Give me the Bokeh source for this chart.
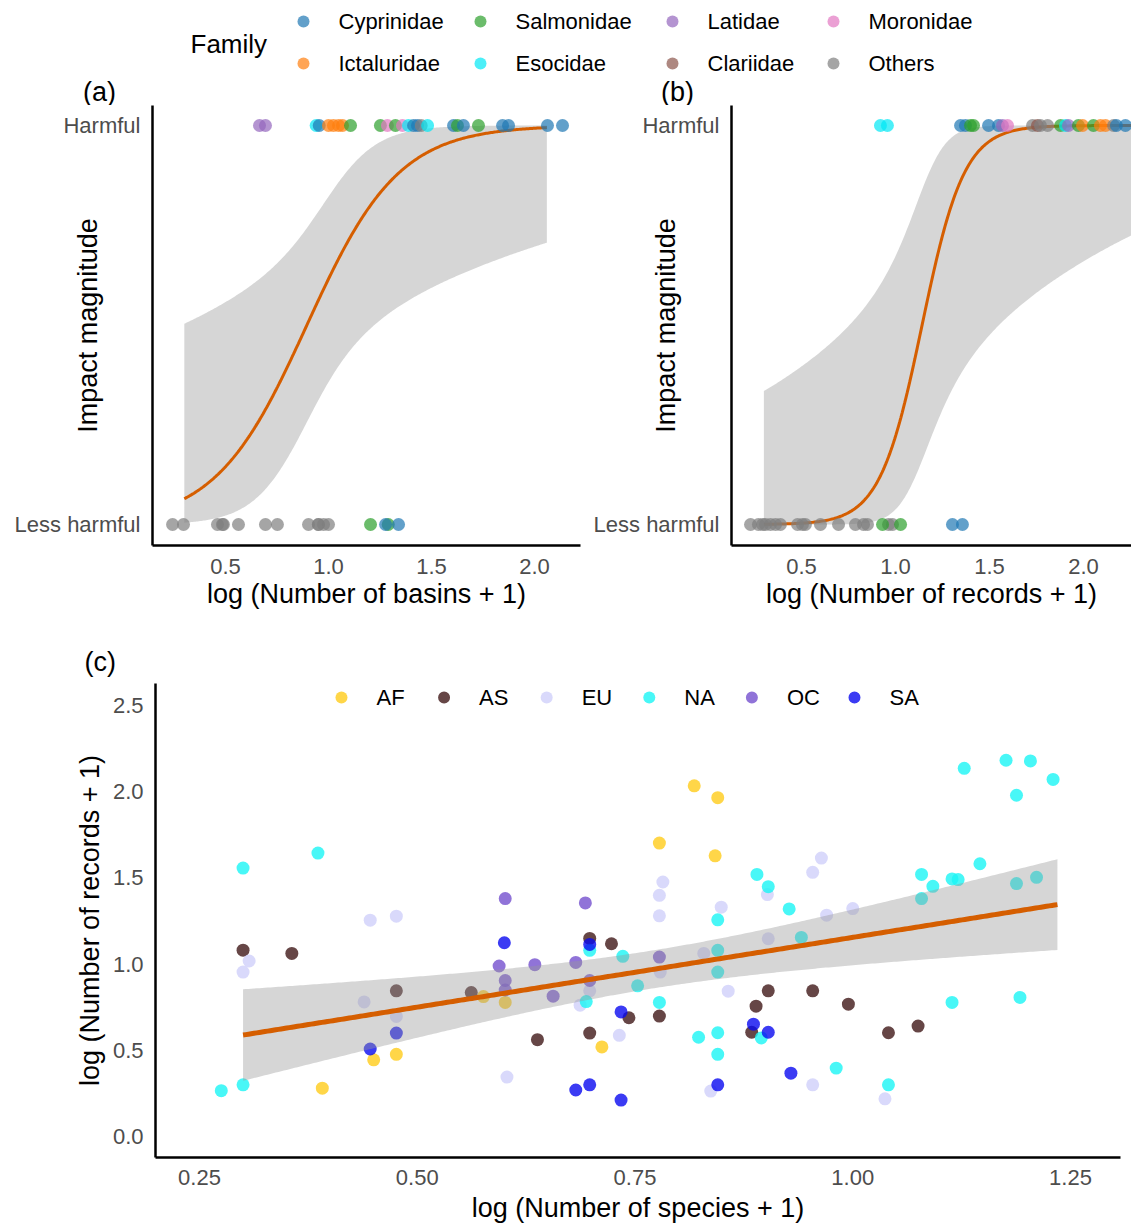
import numpy as np
from bokeh.plotting import figure
from bokeh.models import ColumnDataSource, Range1d, FixedTicker, PrintfTickFormatter
from bokeh.layouts import column, row
from bokeh.transform import factor_cmap
from bokeh.core.properties import value
from bokeh.embed import file_html
from bokeh.resources import INLINE

FONT = "Liberation Sans"

# ---------------- data ----------------
families = ["Cyprinidae", "Ictaluridae", "Salmonidae", "Esocidae",
            "Latidae", "Clariidae", "Moronidae", "Others"]
family_colors = ["#1F77B4", "#FF7F0E", "#2CA02C", "#00E8F5",
                 "#9467BD", "#8C564B", "#E377C2", "#7F7F7F"]
impact_labels = {0: "Less harmful", 1: "Harmful"}

# panel (a): log(number of basins + 1)
a_harm_x = [0.665, 0.694, 0.940, 0.955, 1.000, 1.024, 1.049, 1.068, 1.107, 1.252,
            1.286, 1.325, 1.359, 1.388, 1.413, 1.432, 1.450, 1.481, 1.607, 1.626,
            1.655, 1.728, 1.845, 1.874, 2.063, 2.136]
a_harm_fam = ["Latidae", "Latidae", "Esocidae", "Cyprinidae", "Ictaluridae", "Ictaluridae",
              "Ictaluridae", "Ictaluridae", "Salmonidae", "Salmonidae", "Moronidae",
              "Salmonidae", "Moronidae", "Esocidae", "Cyprinidae", "Cyprinidae", "Others",
              "Esocidae", "Cyprinidae", "Salmonidae", "Cyprinidae", "Salmonidae",
              "Cyprinidae", "Cyprinidae", "Cyprinidae", "Cyprinidae"]
a_less_x = [0.243, 0.296, 0.461, 0.485, 0.490, 0.563, 0.694, 0.752, 0.903, 0.951,
            0.951, 0.976, 1.000, 1.204, 1.290, 1.277, 1.340]
a_less_fam = ["Others"] * 13 + ["Salmonidae", "Salmonidae", "Cyprinidae", "Cyprinidae"]
a_coef = [-4.02, 4.49]
a_vcov = [[3.688, -3.584], [-3.584, 3.772]]
a_fit_range = [0.30, 2.06]

# panel (b): log(number of records + 1)
b_harm_x = [0.920, 0.957, 1.346, 1.372, 1.399, 1.415, 1.495, 1.548, 1.569, 1.596,
            1.729, 1.755, 1.771, 1.809, 1.878, 1.904, 1.920, 1.973, 1.995, 2.053,
            2.090, 2.117, 2.160, 2.175, 2.223]
b_harm_fam = ["Esocidae", "Esocidae", "Cyprinidae", "Cyprinidae", "Salmonidae", "Salmonidae",
              "Cyprinidae", "Cyprinidae", "Latidae", "Moronidae", "Others", "Clariidae",
              "Others", "Others", "Salmonidae", "Esocidae", "Latidae", "Salmonidae",
              "Ictaluridae", "Salmonidae", "Ictaluridae", "Ictaluridae", "Others",
              "Cyprinidae", "Cyprinidae"]
b_less_x = [0.229, 0.271, 0.293, 0.309, 0.335, 0.362, 0.388, 0.479, 0.505, 0.521,
            0.601, 0.697, 0.787, 0.830, 0.851, 0.963, 0.984, 0.931, 1.027, 1.303, 1.356]
b_less_fam = ["Others"] * 17 + ["Salmonidae", "Salmonidae", "Cyprinidae", "Cyprinidae"]
b_coef = [-10.16, 8.9]
b_vcov = [[21.6, -18.35], [-18.35, 16.12]]
b_fit_range = [0.30, 2.30]

# panel (c): log(number of species + 1) vs log(number of records + 1)
regions = ["AF", "AS", "EU", "NA", "OC", "SA"]
region_colors = ["#FFCC1A", "#401818", "#D0D0FA", "#1AF5F5", "#7450CE", "#0A0AF0"]
af_x = [0.818, 0.845, 0.778, 0.842, 0.576, 0.601, 0.450, 0.476, 0.712, 0.391]
af_y = [2.034, 1.965, 1.702, 1.628, 0.812, 0.778, 0.445, 0.477, 0.520, 0.281]
as_x = [0.300, 0.356, 0.698, 0.723, 0.476, 0.562, 0.743, 0.638, 0.698, 0.778, 0.903,
        0.889, 0.954, 0.995, 0.884, 1.041, 1.075]
as_y = [1.081, 1.062, 1.149, 1.118, 0.845, 0.835, 0.689, 0.562, 0.600, 0.699, 0.845,
        0.756, 0.845, 0.768, 0.605, 0.602, 0.641]
eu_x = [0.446, 0.476, 0.307, 0.300, 0.439, 0.698, 0.687, 0.476, 0.732, 0.603, 0.782,
        0.778, 0.778, 0.849, 0.902, 0.954, 0.964, 0.970, 1.000, 0.903, 0.779, 0.829,
        0.857, 0.954, 1.037, 0.837]
eu_y = [1.255, 1.278, 1.018, 0.954, 0.781, 0.845, 0.762, 0.697, 0.587, 0.345, 1.476,
        1.399, 1.280, 1.330, 1.403, 1.532, 1.615, 1.284, 1.322, 1.147, 0.954, 1.062,
        0.843, 0.300, 0.219, 0.264]
na_x = [0.300, 0.386, 0.698, 0.736, 0.694, 0.753, 0.275, 0.300, 0.845, 0.890, 0.903,
        0.927, 0.941, 0.845, 0.845, 0.778, 0.895, 0.823, 0.845, 0.845, 0.981, 1.041,
        1.128, 1.176, 1.204, 1.230, 1.188, 1.146, 1.079, 1.092, 1.114, 1.121, 1.079,
        1.188, 1.211, 1.114, 1.192]
na_y = [1.557, 1.644, 1.080, 1.045, 0.783, 0.874, 0.266, 0.300, 1.257, 1.520, 1.449,
        1.320, 1.155, 1.080, 0.954, 0.778, 0.572, 0.576, 0.602, 0.477, 0.397, 0.300,
        2.135, 2.182, 2.178, 2.071, 1.979, 1.582, 1.520, 1.451, 1.494, 1.490, 1.380,
        1.467, 1.503, 0.778, 0.807]
oc_x = [0.601, 0.693, 0.594, 0.635, 0.682, 0.601, 0.601, 0.656, 0.698, 0.778]
oc_y = [1.380, 1.355, 0.989, 0.997, 1.010, 0.905, 0.850, 0.814, 0.905, 1.041]
sa_x = [0.600, 0.698, 0.476, 0.734, 0.446, 0.682, 0.698, 0.734, 0.886, 0.903, 0.929, 0.845]
sa_y = [1.124, 1.114, 0.600, 0.723, 0.508, 0.270, 0.300, 0.212, 0.652, 0.605, 0.368, 0.300]
c_coef = [0.346, 0.809]
c_vcov = [[0.04306, -0.0519], [-0.0519, 0.0674]]
c_fit_range = [0.30, 1.235]

x_ticks_ab = [0.5, 1.0, 1.5, 2.0]
x_ticks_c = [0.25, 0.50, 0.75, 1.00, 1.25]
y_ticks_c = [0.0, 0.5, 1.0, 1.5, 2.0, 2.5]

RIBBON = "#999999"
LINE = "#D55E00"


def band(coef, vcov, rng, link, z):
    xs = np.linspace(rng[0], rng[1], 300)
    eta = coef[0] + coef[1] * xs
    se = np.sqrt(vcov[0][0] + 2 * vcov[0][1] * xs + vcov[1][1] * xs ** 2)
    return xs, link(eta), link(eta - z * se), link(eta + z * se)


def logistic(t):
    return 1.0 / (1.0 + np.exp(-t))


def style_axes(p, ystand, xstand):
    p.xgrid.visible = False
    p.ygrid.visible = False
    p.outline_line_color = None
    for ax in p.axis:
        ax.axis_line_width = 2.5
        ax.axis_line_color = "black"
        ax.major_tick_line_color = None
        ax.minor_tick_line_color = None
        ax.major_tick_out = 0
        ax.major_tick_in = 0
        ax.major_label_text_font = FONT
        ax.major_label_text_font_size = "22px"
        ax.major_label_text_color = "#4D4D4D"
        ax.axis_label_text_font = FONT
        ax.axis_label_text_font_size = "27px"
        ax.axis_label_text_font_style = "normal"
        ax.axis_label_text_color = "black"
    p.yaxis.major_label_standoff = ystand
    p.xaxis.major_label_standoff = xstand


def impact_panel(width, left, right, xr, harm_x, harm_fam, less_x, less_fam,
                 coef, vcov, rng, ystand, xtitle):
    p = figure(width=width, height=509, x_range=Range1d(*xr),
               y_range=Range1d(-0.0526, 1.0501), min_border_left=left,
               min_border_right=right, min_border_top=0, min_border_bottom=69,
               toolbar_location=None, output_backend="svg")
    style_axes(p, 12, 13)
    p.xaxis.ticker = FixedTicker(ticks=x_ticks_ab)
    p.xaxis.formatter = PrintfTickFormatter(format="%.1f")
    p.yaxis.ticker = FixedTicker(ticks=list(impact_labels.keys()))
    p.yaxis.major_label_overrides = impact_labels
    p.yaxis.axis_label = "Impact magnitude"
    p.yaxis.axis_label_standoff = ystand
    p.xaxis.axis_label = xtitle
    p.xaxis.axis_label_standoff = 2
    xs, fit, lo, hi = band(coef, vcov, rng, logistic, 1.96)
    p.varea(x=xs, y1=lo, y2=hi, fill_color=RIBBON, fill_alpha=0.4)
    p.line(x=xs, y=fit, line_color=LINE, line_width=3)
    src = ColumnDataSource(dict(
        x=harm_x + less_x,
        y=[1] * len(harm_x) + [0] * len(less_x),
        fam=harm_fam + less_fam))
    p.scatter("x", "y", source=src, size=13,
              fill_color=factor_cmap("fam", family_colors, families),
              fill_alpha=0.7, line_color=None)
    return p


# ---------------- header (family legend + panel tags) ----------------
hdr = figure(width=1131, height=105, x_range=Range1d(0, 1131), y_range=Range1d(105, 0),
             min_border_left=0, min_border_right=0, min_border_top=0, min_border_bottom=0,
             x_axis_type=None, y_axis_type=None, toolbar_location=None,
             output_backend="svg")
hdr.xgrid.visible = False
hdr.ygrid.visible = False
hdr.outline_line_color = None
col_x = [303, 480, 672, 833]
row_y = [21, 63]
lg = ColumnDataSource(dict(
    x=[col_x[i // 2] for i in range(len(families))],
    tx=[col_x[i // 2] + 35 for i in range(len(families))],
    y=[row_y[i % 2] for i in range(len(families))],
    fam=families))
hdr.scatter("x", "y", source=lg, size=12,
            fill_color=factor_cmap("fam", family_colors, families),
            fill_alpha=0.7, line_color=None)
hdr.text("tx", "y", text="fam", source=lg, text_font=value(FONT),
         text_font_size=value("22px"), text_baseline="middle", text_align="left",
         text_color="black")
hdr.text(x=[190], y=[43], text=["Family"], text_font=value(FONT),
         text_font_size=value("26px"), text_baseline="middle", text_align="left",
         text_color="black")
hdr.text(x=[99, 677], y=[91, 91], text=["(a)", "(b)"], text_font=value(FONT),
         text_font_size=value("27px"), text_baseline="middle", text_align="center",
         text_color="black")

# ---------------- panels (a) and (b) ----------------
pa = impact_panel(585, 152, 5, (0.1456, 2.2233), a_harm_x, a_harm_fam, a_less_x,
                  a_less_fam, a_coef, a_vcov, a_fit_range, -91,
                  "log (Number of basins + 1)")
pb = impact_panel(546, 146, 0, (0.1277, 2.2553), b_harm_x, b_harm_fam, b_less_x,
                  b_less_fam, b_coef, b_vcov, b_fit_range, -90,
                  "log (Number of records + 1)")

# ---------------- panel (c) ----------------
pc = figure(width=1131, height=611, x_range=Range1d(0.19948, 1.30741),
            y_range=Range1d(-0.1212, 2.62702), min_border_left=155, min_border_right=11,
            min_border_top=69, min_border_bottom=66, toolbar_location=None,
            output_backend="svg")
style_axes(pc, 12, 12)
pc.xaxis.ticker = FixedTicker(ticks=x_ticks_c)
pc.xaxis.formatter = PrintfTickFormatter(format="%.2f")
pc.yaxis.ticker = FixedTicker(ticks=y_ticks_c)
pc.yaxis.formatter = PrintfTickFormatter(format="%.1f")
pc.yaxis.axis_label = "log (Number of records + 1)"
pc.yaxis.axis_label_standoff = 5
pc.xaxis.axis_label = "log (Number of species + 1)"
pc.xaxis.axis_label_standoff = 5
pc.title.text = "(c)"
pc.title.align = "left"
pc.title.offset = -71
pc.title.standoff = 13
pc.title.text_font = FONT
pc.title.text_font_size = "27px"
pc.title.text_font_style = "normal"
pc.title.text_color = "black"

rx = [af_x, as_x, eu_x, na_x, oc_x, sa_x]
ry = [af_y, as_y, eu_y, na_y, oc_y, sa_y]
csrc = ColumnDataSource(dict(
    x=sum(rx, []), y=sum(ry, []),
    reg=sum([[r] * len(xx) for r, xx in zip(regions, rx)], [])))
pc.scatter("x", "y", source=csrc, size=13,
           fill_color=factor_cmap("reg", region_colors, regions),
           fill_alpha=0.8, line_color=None)
xs, fit, lo, hi = band(c_coef, c_vcov, c_fit_range, lambda t: t, 1.98)
pc.varea(x=xs, y1=lo, y2=hi, fill_color=RIBBON, fill_alpha=0.4)
pc.line(x=xs, y=fit, line_color=LINE, line_width=5)

leg_x0, leg_dx, leg_y = 0.4130, 0.1178, 2.546
lsrc = ColumnDataSource(dict(
    x=[leg_x0 + i * leg_dx for i in range(len(regions))],
    tx=[leg_x0 + i * leg_dx + 0.0402 for i in range(len(regions))],
    y=[leg_y] * len(regions), reg=regions))
pc.scatter("x", "y", source=lsrc, size=12,
           fill_color=factor_cmap("reg", region_colors, regions),
           fill_alpha=0.8, line_color=None)
pc.text("tx", "y", text="reg", source=lsrc, text_font=value(FONT),
        text_font_size=value("22px"), text_baseline="middle", text_align="left",
        text_color="black")

layout = column(row(hdr), row(pa, pb), row(pc))
open("out.html", "w").write(file_html(layout, INLINE))
